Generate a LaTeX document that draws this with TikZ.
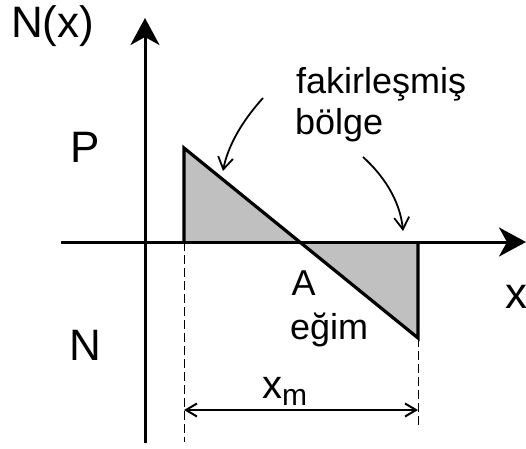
\documentclass[tikz,border=0pt]{standalone}
\usepackage{fontspec}
\setmainfont{Liberation Sans}
\usetikzlibrary{arrows.meta}
\definecolor{fillgray}{RGB}{192,192,192}
\tikzset{
  axis/.style={line width=3pt},
  axistip/.style={-{Stealth[length=27pt,width=29pt,inset=8pt]}},
  outline/.style={line width=3.2pt, line join=miter},
  guide/.style={line width=1pt, dash pattern=on 9pt off 4pt},
  dim/.style={line width=1.5pt, {Straight Barb[length=11pt,width=13pt,line width=2pt]}-{Straight Barb[length=11pt,width=13pt,line width=2pt]}},
  pointer/.style={line width=1.8pt, -{Straight Barb[length=12pt,width=15pt]}},
  big/.style={font=\fontsize{44}{44}\selectfont, inner sep=0pt},
  mid/.style={font=\fontsize{36}{36}\selectfont, inner sep=0pt},
}
\begin{document}
\begin{tikzpicture}[x=1pt,y=-1pt]
\useasboundingbox (0,0) rectangle (526,448);
% coordinates
\coordinate (O) at (145,242);
\coordinate (yb) at (145,443);
\coordinate (yt) at (145,18);
\coordinate (xl) at (61,242);
\coordinate (xr) at (526,242);
\coordinate (L0) at (184,242);
\coordinate (LT) at (184,148);
\coordinate (Z) at (300,242);
\coordinate (R0) at (418,242);
\coordinate (RB) at (418,338);
\coordinate (Ld) at (184,442);
\coordinate (Rd) at (418,425);
\coordinate (Da) at (184,410);
\coordinate (Db) at (418,410);
% fills
\fill[fillgray] (L0) -- (LT) -- (Z) -- cycle;
\fill[fillgray] (Z) -- (R0) -- (RB) -- cycle;
% outline
\draw[outline] (L0) -- (LT) -- (RB) -- (R0);
% axes
\draw[axis] (xl) -- (R0);
\draw[axis,axistip] (R0) -- (xr);
\draw[axis,axistip] (yb) -- (yt);
% guides
\draw[guide] (L0) -- (Ld);
\draw[guide] (RB) -- (Rd);
\draw[dim] (Da) -- (Db);
% labels
\node[big,anchor=base west] (Nx) at (11,37) {N(x)};
\node[big,anchor=base] (P) at (85,162) {P};
\node[big,anchor=base] (N) at (85,360) {N};
\node[big,anchor=base west] (xlab) at (505,308) {x};
\node[mid,anchor=base west] (fak) at (296,93) {fakirleşmiş};
\node[mid,anchor=base west] (bol) at (295,134) {bölge};
\node[mid,anchor=base] (A) at (303.5,295) {A};
\node[mid,anchor=base west] (egim) at (290,339) {eğim};
\node[inner sep=0pt,anchor=base west,font=\fontsize{40}{40}\selectfont] (xm) at (262,398) {x\raisebox{-7pt}{\fontsize{30}{30}\selectfont m}};
% pointers
\coordinate (p1s) at (263,98);
\coordinate (p1e) at (223,171);
\coordinate (p2s) at (363,157);
\coordinate (p2e) at (403,231);
\draw[pointer] (p1s) .. controls (243,120) and (228,145) .. (p1e);
\draw[pointer] (p2s) .. controls (383,175) and (400,200) .. (p2e);
\end{tikzpicture}
\end{document}
